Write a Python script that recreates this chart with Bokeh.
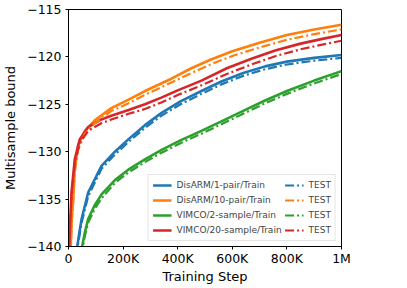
from bokeh.plotting import figure
from bokeh.models import Range1d, Legend, LegendItem, FixedTicker
from bokeh.embed import file_html
from bokeh.resources import INLINE

# ---- data (training step in thousands, multisample bound) ----
disarm1_steps = [20, 32, 40, 48, 72, 121, 170, 219, 280, 341, 410, 487, 560, 640, 720, 800, 900, 1000]
disarm1_train = [-150, -140, -138.5, -137.1, -134.3, -131.5, -130.0, -128.7, -127.2, -125.9, -124.7, -123.6, -122.6, -121.7, -121.0, -120.5, -120.1, -119.8]
disarm1_test = [-150, -140.3, -138.9, -137.5, -134.7, -131.8, -130.3, -129.0, -127.5, -126.2, -125.0, -123.9, -122.9, -122.0, -121.3, -120.8, -120.4, -120.1]

disarm10_steps = [4, 8, 12, 17, 23, 35, 60, 96, 157, 220, 280, 377, 450, 520, 600, 700, 800, 900, 1000]
disarm10_train = [-150, -140, -137, -135, -131.8, -129.4, -127.8, -126.7, -125.4, -124.5, -123.6, -122.3, -121.2, -120.3, -119.4, -118.5, -117.7, -117.1, -116.6]
disarm10_test = [-150, -140.5, -137.5, -135.4, -132.2, -129.8, -128.1, -127.0, -125.7, -124.9, -124.0, -122.7, -121.7, -120.8, -119.9, -119.0, -118.2, -117.6, -117.1]

vimco2_steps = [35, 50, 60, 72, 95, 121, 170, 219, 280, 341, 410, 487, 560, 640, 720, 800, 900, 1000]
vimco2_train = [-150, -140, -138.5, -137.1, -135.7, -134.5, -133.0, -131.9, -130.8, -129.8, -128.8, -127.8, -126.8, -125.7, -124.6, -123.6, -122.5, -121.5]
vimco2_test = [-150, -140.4, -138.9, -137.5, -136.1, -134.9, -133.3, -132.2, -131.1, -130.1, -129.1, -128.1, -127.1, -126.0, -124.9, -123.9, -122.8, -121.8]

vimco20_steps = [1, 3, 7, 11, 23, 41, 72, 120, 157, 220, 280, 340, 402, 487, 580, 670, 760, 850, 930, 1000]
vimco20_train = [-150, -140, -137, -134.3, -130.8, -128.7, -127.4, -126.6, -126.2, -125.6, -125.0, -124.3, -123.5, -122.5, -121.2, -120.2, -119.3, -118.6, -118.1, -117.7]
vimco20_test = [-150, -140.4, -137.4, -134.7, -131.2, -129.1, -127.8, -127.0, -126.6, -126.0, -125.5, -124.8, -124.0, -123.0, -121.8, -120.8, -119.9, -119.2, -118.7, -118.3]

series_names = ["DisARM/1-pair/Train", "DisARM/10-pair/Train", "VIMCO/2-sample/Train", "VIMCO/20-sample/Train"]
test_label = "TEST"
x_ticks = [0, 200, 400, 600, 800, 1000]
x_tick_labels = ["0", "200K", "400K", "600K", "800K", "1M"]
y_ticks = [-140, -135, -130, -125, -120, -115]

colors = ["#1f77b4", "#ff7f0e", "#2ca02c", "#d62728"]
FONT = "DejaVu Sans"

p = figure(frame_width=273, frame_height=237, output_backend="svg", toolbar_location=None,
           x_range=Range1d(0, 1000), y_range=Range1d(-140, -115),
           min_border_left=10, min_border_top=9, min_border_right=22, min_border_bottom=2)
p.background_fill_color = "white"
p.border_fill_color = "white"
p.outline_line_color = "black"
p.outline_line_width = 1
p.xgrid.visible = False
p.ygrid.visible = False

series = [
    (disarm1_steps, disarm1_train, disarm1_test),
    (disarm10_steps, disarm10_train, disarm10_test),
    (vimco2_steps, vimco2_train, vimco2_test),
    (vimco20_steps, vimco20_train, vimco20_test),
]
train_r = []
test_r = []
for (s, tr, te), c in zip(series, colors):
    train_r.append(p.line(s, tr, line_color=c, line_width=2.6))
for (s, tr, te), c in zip(series, colors):
    test_r.append(p.line(s, te, line_color=c, line_width=2.2, line_dash="9 3 2 3"))

items = [LegendItem(label=n, renderers=[r]) for n, r in zip(series_names, train_r)]
items += [LegendItem(label=test_label, renderers=[r]) for r in test_r]
legend = Legend(items=items, ncols=2, location="bottom_right")
legend.label_text_font = FONT
legend.label_text_font_size = "9px"
legend.label_height = 12
legend.glyph_height = 12
legend.glyph_width = 19
legend.spacing = 3
legend.padding = 4
legend.margin = 5
legend.label_standoff = 5
legend.border_line_color = "#cccccc"
legend.border_line_width = 1
legend.background_fill_alpha = 0.8
p.add_layout(legend)

for ax in (p.xaxis[0], p.yaxis[0]):
    ax.major_label_text_font = FONT
    ax.major_label_text_font_size = "12.5px"
    ax.major_label_text_color = "black"
    ax.axis_label_text_font = FONT
    ax.axis_label_text_font_size = "13px"
    ax.axis_label_text_font_style = "normal"
    ax.axis_label_text_color = "black"
    ax.major_tick_in = 0
    ax.major_tick_out = 3
    ax.minor_tick_in = 0
    ax.minor_tick_out = 0
    ax.axis_line_color = "black"
    ax.major_tick_line_color = "black"

p.xaxis.ticker = FixedTicker(ticks=x_ticks)
p.xaxis.major_label_overrides = {t: l for t, l in zip(x_ticks, x_tick_labels)}
p.xaxis.axis_label = "Training Step"
p.xaxis.axis_label_standoff = 0
p.xaxis.major_label_standoff = 1
p.yaxis.ticker = FixedTicker(ticks=y_ticks)
p.yaxis.major_label_overrides = {t: "\u2212" + str(abs(t)) for t in y_ticks}
p.yaxis.axis_label = "Multisample bound"
p.yaxis.axis_label_standoff = 6
p.yaxis.major_label_standoff = 4

open("out.html", "w").write(file_html(p, INLINE))
